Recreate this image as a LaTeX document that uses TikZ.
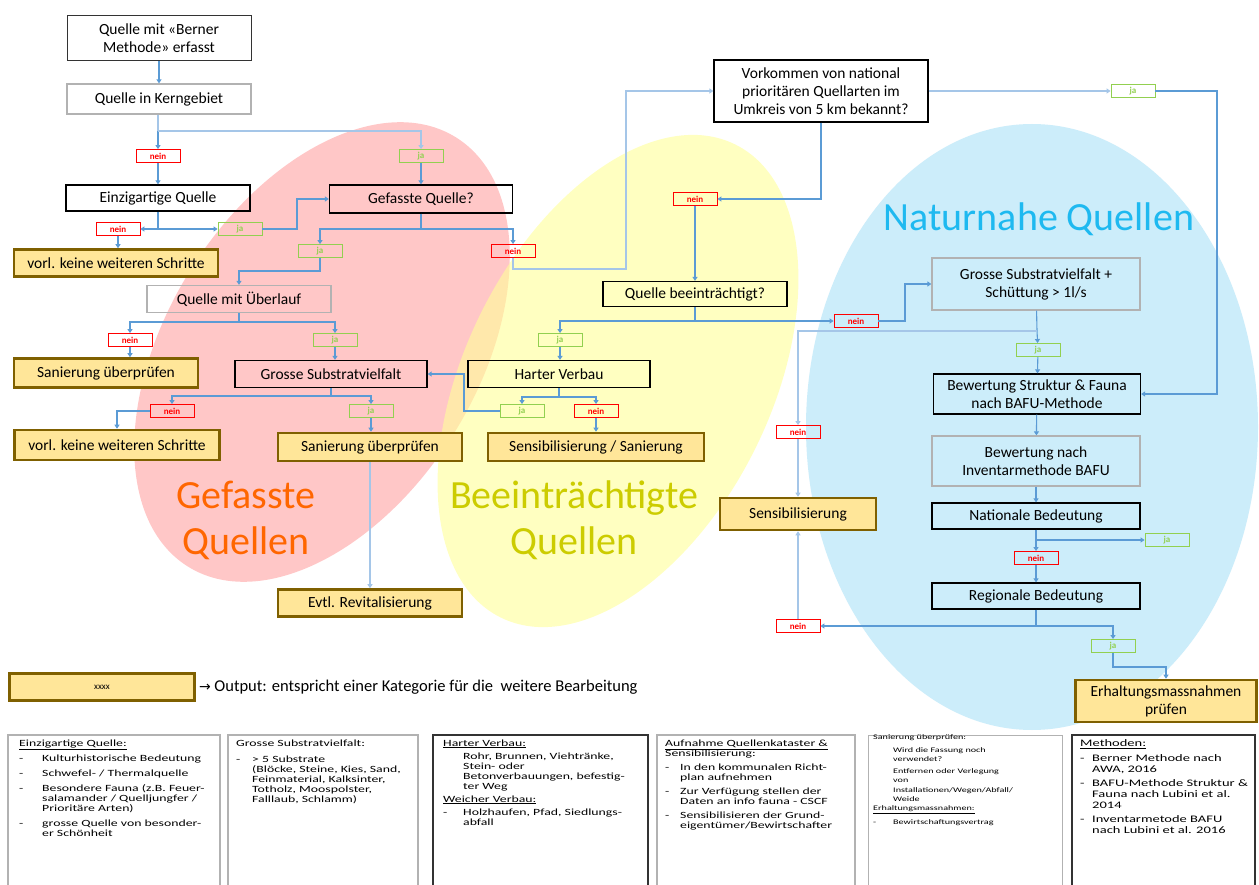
\documentclass[tikz,border=0pt]{standalone}
\usepackage{fontspec}
\setmainfont{Carlito}
\newfontfamily\notefont[FakeStretch=1.45]{Carlito}
\newfontfamily\arrowfont{DejaVu Sans}
\usetikzlibrary{arrows.meta}
\definecolor{conncol}{RGB}{91,155,213}
\definecolor{faintcol}{RGB}{165,198,232}
\definecolor{outfill}{RGB}{255,230,153}
\definecolor{outdraw}{RGB}{127,96,0}
\definecolor{neincol}{RGB}{255,0,0}
\definecolor{jacol}{RGB}{146,208,80}
\definecolor{pinkfill}{RGB}{255,199,199}
\definecolor{yellowfill}{RGB}{255,255,153}
\definecolor{bluefill}{RGB}{204,237,250}
\definecolor{gefcol}{RGB}{255,102,0}
\definecolor{beecol}{RGB}{204,204,0}
\definecolor{natcol}{RGB}{30,185,240}
\begin{document}
\begin{tikzpicture}[x=1pt, y=-1pt,
  qbox/.style={draw=black, line width=1.2pt, minimum width=184pt, minimum height=27pt, inner sep=1pt, align=center, font=\fontsize{15.5}{18}\selectfont},
  qboxgray/.style={qbox, draw=gray!60},
  outbox/.style={qbox, draw=outdraw, line width=2.6pt, fill=outfill},
  nein/.style={draw=neincol, line width=0.9pt, minimum width=44pt, minimum height=13pt, inner sep=0pt, text=neincol, font=\fontsize{9}{9}\selectfont\bfseries},
  ja/.style={nein, draw=jacol, text=jacol},
  link/.style={draw=conncol, line width=1.1pt},
  conn/.style={link, -{Triangle[width=5pt,length=4pt]}},
  faint/.style={draw=faintcol},
  bigtext/.style={font=\fontsize{40}{46}\selectfont, align=center},
  notebox/.style={draw=gray!60, line width=1.5pt},
  notetext/.style={anchor=north west, inner sep=0pt, align=left, font=\notefont\fontsize{9.5}{10}\selectfont}]
\useasboundingbox (0,0) rectangle (1259,885);
\fill[white] (0,0) rectangle (1259,885);
\fill[pinkfill, rotate around={58:(322,352)}] (322,352) ellipse [x radius=253pt, y radius=155pt];
\fill[yellowfill, fill opacity=0.6, rotate around={63.6:(618,381)}] (618,381) ellipse [x radius=264pt, y radius=153pt];
\fill[bluefill] (1032,427) ellipse [x radius=226pt, y radius=303pt];
\node[bigtext, text=gefcol] (GL) at (246,520) {Gefasste\\Quellen};
\node[bigtext, text=beecol] (BL) at (574,520) {Beeinträchtigte\\Quellen};
\node[bigtext, text=natcol] (NL) at (1039,219) {Naturnahe Quellen};

\node[qbox, draw=black!80, line width=1pt, minimum height=45pt] (G1N0) at (159,38) {Quelle mit «Berner\\Methode» erfasst};
\node[qboxgray, minimum height=30pt] (G1N1) at (159,99) {Quelle in Kerngebiet};
\node[qbox, minimum height=26pt] (G1N2) at (158,198) {Einzigartige Quelle};
\node[qbox, minimum width=183pt, minimum height=28pt] (G1N3) at (421,199) {Gefasste Quelle?};
\node[qboxgray] (G1N4) at (239,299) {Quelle mit Überlauf};
\node[qbox, minimum width=192pt] (G1N5) at (331,374) {Grosse Substratvielfalt};
\node[outbox, minimum width=204pt] (G1A1) at (116,263) {vorl. keine weiteren Schritte};
\node[outbox, minimum height=29pt] (G1A2) at (106,373) {Sanierung überprüfen};
\node[outbox, minimum width=205pt, minimum height=30pt] (G1A3) at (117,445) {vorl. keine weiteren Schritte};
\node[outbox, minimum height=28pt] (G1A4) at (370,447) {Sanierung überprüfen};
\node[outbox] (G1A5) at (370,603) {Evtl. Revitalisierung};

\node[qbox, minimum width=214pt, minimum height=62pt] (B1N0) at (821,91) {Vorkommen von national\\prioritären Quellarten im\\Umkreis von 5 km bekannt?};
\node[qbox, minimum height=25pt] (B1N1) at (695,294) {Quelle beeinträchtigt?};
\node[qbox, minimum width=182pt] (B1N2) at (559,374) {Harter Verbau};
\node[outbox, minimum width=216pt, minimum height=28pt] (B1A1) at (596,447) {Sensibilisierung / Sanierung};
\node[outbox, minimum width=156pt, minimum height=32pt] (B1A2) at (798,514) {Sensibilisierung};

\node[qboxgray, minimum width=208pt, minimum height=52pt] (N1N0) at (1036,284) {Grosse Substratvielfalt +\\Schüttung > 1l/s};
\node[qbox, minimum width=207pt, minimum height=40pt] (N1N1) at (1037,394) {Bewertung Struktur \& Fauna\\nach BAFU-Methode};
\node[qboxgray, minimum width=208pt, minimum height=50pt] (N1N2) at (1036,461) {Bewertung nach\\Inventarmethode BAFU};
\node[qbox, minimum width=208pt, minimum height=26pt] (N1N3) at (1036,516) {Nationale Bedeutung};
\node[qbox, minimum width=208pt, minimum height=26pt] (N1N4) at (1036,596) {Regionale Bedeutung};
\node[outbox, minimum width=181pt, minimum height=42pt] (N1A1) at (1166,701) {Erhaltungsmassnahmen\\prüfen};

\node[nein] (G1X1) at (158,156) {nein};
\node[ja] (G1Y1) at (421,156) {ja};
\node[nein] (G1X2) at (118,229) {nein};
\node[ja] (G1Y2) at (240,229) {ja};
\node[ja] (G1Y3) at (320,251) {ja};
\node[nein] (G1X3) at (513,251) {nein};
\node[nein] (G1X4) at (130,340) {nein};
\node[ja] (G1Y4) at (335,340) {ja};
\node[nein] (G1X5) at (172,411) {nein};
\node[ja] (G1Y5) at (371,411) {ja};
\node[nein] (B1X1) at (695,199) {nein};
\node[ja] (B1Y1) at (560,340) {ja};
\node[ja] (B1Y2) at (522,411) {ja};
\node[nein] (B1X2) at (596,411) {nein};
\node[ja] (N1Y1) at (1133,91) {ja};
\node[nein] (N1X1) at (856,321) {nein};
\node[ja] (N1Y2) at (1038,350) {ja};
\node[nein] (N1X2) at (798,432) {nein};
\node[ja] (N1Y3) at (1167,540) {ja};
\node[nein] (N1X3) at (1036,558) {nein};
\node[nein] (N1X4) at (798,626) {nein};
\node[ja] (N1Y4) at (1113,646) {ja};

\coordinate (G1C1) at (158,131);
\coordinate (G1C2) at (297,229);
\coordinate (G1C3) at (421,229);
\coordinate (G1C4) at (320,271);
\coordinate (G1C5) at (239,322);
\coordinate (G1C6) at (331,396);
\coordinate (B1C1) at (626,269);
\coordinate (B1C2) at (695,321);
\coordinate (B1C3) at (559,397);
\coordinate (B1C4) at (464,411);
\coordinate (N1C1) at (1217,394);
\coordinate (N1C2) at (905,321);
\coordinate (N1C3) at (1037,331);
\coordinate (N1C4) at (1036,540);
\coordinate (N1C5) at (1036,626);
\coordinate (N1C6) at (1113,667);

\draw[conn] (G1N0) -- (G1N1);
\draw[link, faint] (G1N1.south -| G1C1) -- (G1C1);
\draw[conn] (G1C1) -- (G1X1);
\draw[conn, faint] (G1C1) -| (G1Y1);
\draw[conn] (G1X1) -- (G1N2);
\draw[conn] (G1Y1) -- (G1N3);
\draw[link] (G1N2.south) -- (G1N2.south |- G1X2);
\draw[conn] (G1N2.south |- G1X2) -- (G1X2);
\draw[conn] (G1N2.south |- G1X2) -- (G1Y2);
\draw[conn] (G1X2) -- (G1X2 |- G1A1.north);
\draw[conn] (G1Y2) -- (G1C2) |- (G1N3);
\draw[link] (G1N3) -- (G1C3);
\draw[conn] (G1C3) -| (G1Y3);
\draw[conn] (G1C3) -| (G1X3);
\draw[conn] (G1Y3) -- (G1C4) -| (G1N4);
\draw[conn, faint] (G1X3) |- (B1C1) |- (B1N0);
\draw[link] (G1N4) -- (G1C5);
\draw[conn] (G1C5) -| (G1X4);
\draw[conn] (G1C5) -| (G1Y4);
\draw[conn] (G1X4) -- (G1X4 |- G1A2.north);
\draw[conn] (G1Y4) -- (G1Y4 |- G1N5.north);
\draw[link] (G1N5) -- (G1C6);
\draw[conn] (G1C6) -| (G1X5);
\draw[conn] (G1C6) -| (G1Y5);
\draw[conn] (G1X5) -| (G1A3);
\draw[conn] (G1Y5) -- (G1Y5 |- G1A4.north);
\draw[conn, faint] (G1A4) -- (G1A5);

\draw[conn] (B1N0) |- (B1X1);
\draw[conn] (B1X1) -- (B1N1);
\draw[link] (B1N1) -- (B1C2);
\draw[conn] (B1C2) -| (B1Y1);
\draw[conn] (B1C2) -- (N1X1);
\draw[conn] (B1Y1) -- (B1Y1 |- B1N2.north);
\draw[link] (B1N2) -- (B1C3);
\draw[conn] (B1C3) -| (B1Y2);
\draw[conn] (B1C3) -| (B1X2);
\draw[conn] (B1Y2) -- (B1C4) |- (G1N5);
\draw[conn] (B1X2) -- (B1A1);
\draw[conn, faint] (B1N0) -- (N1Y1);

\draw[conn] (N1Y1) -| (N1C1) -- (N1N1);
\draw[conn] (N1X1) -- (N1C2) |- (N1N0);
\draw[link] (N1N0) -- (N1C3);
\draw[conn] (N1C3) -- (N1Y2);
\draw[conn, faint] (N1C3) -| (N1X2);
\draw[conn] (N1Y2) -- (N1N1);
\draw[conn, faint] (N1X2) -- (B1A2);
\draw[conn] (N1N1) -- (N1N2);
\draw[conn] (N1N2) -- (N1N3);
\draw[conn] (N1N3) -- (N1X3);
\draw[conn] (N1C4) -- (N1Y3);
\draw[conn] (N1X3) -- (N1N4);
\draw[link] (N1N4) -- (N1C5);
\draw[conn] (N1C5) -- (N1X4);
\draw[conn] (N1C5) -| (N1Y4);
\draw[conn, faint] (N1X4) -- (B1A2);
\draw[conn] (N1Y4) -- (N1C6) -| (N1A1);

\node[outbox, minimum width=185pt, minimum height=27pt, font=\fontsize{9}{9}\selectfont] (L1A1) at (102,687) {xxxx};
\node[anchor=west, inner sep=3pt, font=\fontsize{16.5}{20}\selectfont] (L1T1) at (L1A1.east) {{\arrowfont\fontsize{14}{14}\selectfont →} Output: entspricht einer Kategorie für die\ \ weitere Bearbeitung};

\draw[notebox] (8,735) rectangle (220,895);
\draw[notebox] (228,735) rectangle (418,895);
\draw[notebox, draw=black!80] (433,735) rectangle (648,895);
\draw[notebox] (657,735) rectangle (855,895);
\draw[notebox, line width=1pt] (868,735) rectangle (1062,895);
\draw[notebox, draw=black!80] (1072,735) rectangle (1255,895);

\node[notetext] (T1) at (19,739) {\begin{tabular}{@{}p{23pt}@{}l@{}}
\multicolumn{2}{@{}l@{}}{\underline{Einzigartige Quelle:}}\\[5pt]
- & Kulturhistorische Bedeutung\\[5pt]
- & Schwefel- / Thermalquelle\\[5pt]
- & Besondere Fauna (z.B. Feuer-\\
  & salamander / Quelljungfer /\\
  & Prioritäre Arten)\\[5pt]
- & grosse Quelle von besonder-\\
  & er Schönheit
\end{tabular}};
\node[notetext] (T2) at (236,739) {\begin{tabular}{@{}p{16pt}@{}l@{}}
\multicolumn{2}{@{}l@{}}{Grosse Substratvielfalt:}\\[6pt]
- & > 5 Substrate\\
  & (Blöcke, Steine, Kies, Sand,\\
  & Feinmaterial, Kalksinter,\\
  & Totholz, Moospolster,\\
  & Falllaub, Schlamm)
\end{tabular}};
\node[notetext] (T3) at (443,739) {\begin{tabular}{@{}p{20pt}@{}l@{}}
\multicolumn{2}{@{}l@{}}{\underline{Harter Verbau:}}\\[3pt]
  & Rohr, Brunnen, Viehtränke,\\
  & Stein- oder\\
  & Betonverbauungen, befestig-\\
  & ter Weg\\[3pt]
\multicolumn{2}{@{}l@{}}{\underline{Weicher Verbau:}}\\[3pt]
- & Holzhaufen, Pfad, Siedlungs-\\
  & abfall
\end{tabular}};
\node[notetext] (T4) at (665,739) {\begin{tabular}{@{}p{15pt}@{}l@{}}
\multicolumn{2}{@{}l@{}}{\underline{Aufnahme Quellenkataster \&}}\\
\multicolumn{2}{@{}l@{}}{Sensibilisierung:}\\[4pt]
- & In den kommunalen Richt-\\
  & plan aufnehmen\\[4pt]
- & Zur Verfügung stellen der\\
  & Daten an info fauna - CSCF\\[4pt]
- & Sensibilisieren der Grund-\\
  & eigentümer/Bewirtschafter
\end{tabular}};
\node[notetext, font=\notefont\fontsize{7}{9.3}\selectfont] (T5) at (873,733) {\begin{tabular}{@{}p{20pt}@{}l@{}}
\multicolumn{2}{@{}l@{}}{Sanierung überprüfen:}\\[3pt]
  & Wird die Fassung noch\\
  & verwendet?\\[3pt]
  & Entfernen oder Verlegung\\
  & von\\
  & Installationen/Wegen/Abfall/\\
  & Weide\\
\multicolumn{2}{@{}l@{}}{\underline{Erhaltungsmassnahmen:}}\\[4pt]
- & Bewirtschaftungsvertrag
\end{tabular}};
\node[notetext, font=\notefont\fontsize{10}{10.7}\selectfont] (T6) at (1080,739) {\begin{tabular}{@{}p{12pt}@{}l@{}}
\multicolumn{2}{@{}l@{}}{\underline{Methoden:}}\\[4pt]
- & Berner Methode nach\\
  & AWA, 2016\\[4pt]
- & BAFU-Methode Struktur \&\\
  & Fauna nach Lubini et al.\\
  & 2014\\[4pt]
- & Inventarmetode BAFU\\
  & nach Lubini et al. 2016
\end{tabular}};
\end{tikzpicture}
\end{document}
